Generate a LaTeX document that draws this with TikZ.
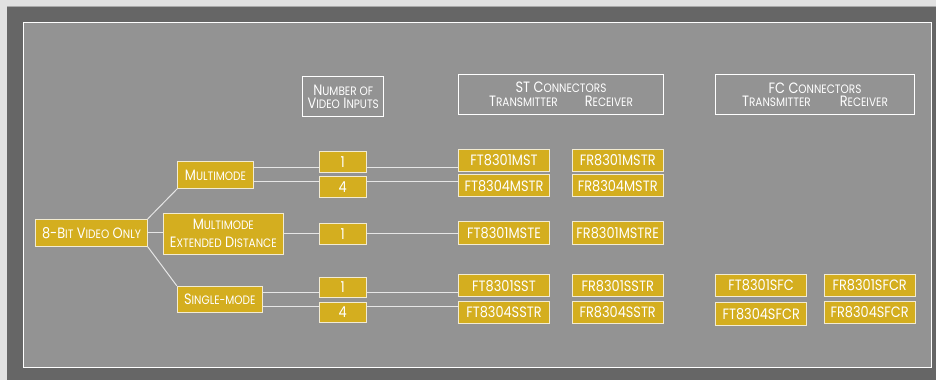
\documentclass[tikz,border=0pt]{standalone}
\usepackage{fontspec}
\setmainfont{Poppins}[FakeStretch=0.86]
\usetikzlibrary{calc}
\pgfdeclarelayer{back}
\pgfdeclarelayer{lines}
\pgfsetlayers{back,lines,main}
\definecolor{outerc}{HTML}{E1E1E1}
\definecolor{darkc}{HTML}{666666}
\definecolor{innerc}{HTML}{939393}
\definecolor{gold}{HTML}{D4AE1F}
\definecolor{cream}{HTML}{F2EBD2}
\definecolor{linec}{HTML}{E6E6E6}
\newcommand\mainsz{\fontsize{15}{13.3}\selectfont}
\newcommand\smc[1]{{\fontsize{12.2}{13.3}\selectfont #1}}
\begin{document}
\begin{tikzpicture}[x=1pt,y=-1pt,
  every node/.style={font=\mainsz, text=white, inner sep=0pt},
  gbox/.style={draw=cream, fill=gold, line width=1pt, minimum height=22.5},
  nbox/.style={gbox, minimum width=46.7, minimum height=20.6},
  pbox/.style={gbox, minimum width=91.3},
  hbox/.style={draw=white, line width=1pt, align=center},
  conn/.style={draw=linec, line width=1pt}]
\useasboundingbox (0,0) rectangle (936,380);
\begin{pgfonlayer}{back}
  \fill[outerc] (0,0) rectangle (936,380);
  \fill[darkc] (7,6.5) rectangle (936,380);
  \draw[innerc!80!white, line width=0.6pt] (7,6.3) -- (936,6.3);
  \filldraw[fill=innerc, draw=white, line width=1.3pt] (23.3,22.3) rectangle (931.8,367.5);
\end{pgfonlayer}

% headers
\node[hbox, minimum width=81, minimum height=39.7] (hnum) at (343.2,96.8)
  {N\smc{UMBER OF}\\V\smc{IDEO} I\smc{NPUTS}};
\node[hbox, minimum width=204.7, minimum height=40] (hst) at (561,94.3)
  {ST C\smc{ONNECTORS}\\T\smc{RANSMITTER}\hspace{27pt}R\smc{ECEIVER}};
\node[hbox, minimum width=199.3, minimum height=39.7] (hfc) at (815,94.8)
  {FC C\smc{ONNECTORS}\\T\smc{RANSMITTER}\hspace{29pt}R\smc{ECEIVER}};

% tree
\node[gbox, minimum width=111.6, minimum height=27] (e8) at (91.5,232.8)
  {8-B\smc{IT} V\smc{IDEO} O\smc{NLY}};
\node[gbox, minimum width=75.6, minimum height=26.6] (mm) at (215.5,175)
  {M\smc{ULTIMODE}};
\node[gbox, minimum width=120, minimum height=40.7, align=center] (med) at (223.3,233.7)
  {M\smc{ULTIMODE}\\[4.6pt]E\smc{XTENDED} D\smc{ISTANCE}};
\node[gbox, minimum width=85, minimum height=26.4] (sm) at (219.8,299.5)
  {S\smc{INGLE-MODE}};

% number of inputs
\node[nbox] (n1) at (342.7,162) {1};
\node[nbox] (n4) at (342.7,187) {4};
\node[nbox] (n1e) at (342.7,234) {1};
\node[nbox] (ns1) at (342.7,287.5) {1};
\node[nbox] (ns4) at (342.7,312.3) {4};

% ST transmitters / receivers
\node[pbox] (ft1) at (504,160.5) {FT8301MST};
\node[pbox] (ft4) at (504,185.7) {FT8304MSTR};
\node[pbox] (fte) at (504,233) {FT8301MSTE};
\node[pbox] (fts1) at (504,285.7) {FT8301SST};
\node[pbox] (fts4) at (504,312.3) {FT8304SSTR};
\node[pbox] (fr1) at (617.7,160.5) {FR8301MSTR};
\node[pbox] (fr4) at (617.7,185.7) {FR8304MSTR};
\node[pbox] (fre) at (617.7,233) {FR8301MSTRE};
\node[pbox] (frs1) at (617.7,285.7) {FR8301SSTR};
\node[pbox] (frs4) at (617.7,312.3) {FR8304SSTR};

% FC transmitters / receivers
\node[pbox] (fc1) at (761.2,285.5) {FT8301SFC};
\node[pbox, minimum height=23.3] (fc4) at (761.2,313.7) {FT8304SFCR};
\node[pbox] (fcr1) at (869.7,285.5) {FR8301SFCR};
\node[pbox] (fcr4) at (869.7,312.5) {FR8304SFCR};

% connectors
\begin{pgfonlayer}{lines}
  \draw[conn] (e8.north east) -- (mm.south west);
  \draw[conn] (e8.east) -- (med.west |- e8.east);
  \draw[conn] (e8.south east) -- (sm.north west);
  \draw[conn] (mm.east |- 0,167.3) -- (ft1.west |- 0,167.3);
  \draw[conn] (mm.east |- 0,181.5) -- (ft4.west |- 0,181.5);
  \draw[conn] (med.east |- fte.west) -- (fte.west);
  \draw[conn] (sm.east |- 0,292.3) -- (fts1.west |- 0,292.3);
  \draw[conn] (sm.east |- 0,306.7) -- (fts4.west |- 0,306.7);
\end{pgfonlayer}
\end{tikzpicture}
\end{document}
